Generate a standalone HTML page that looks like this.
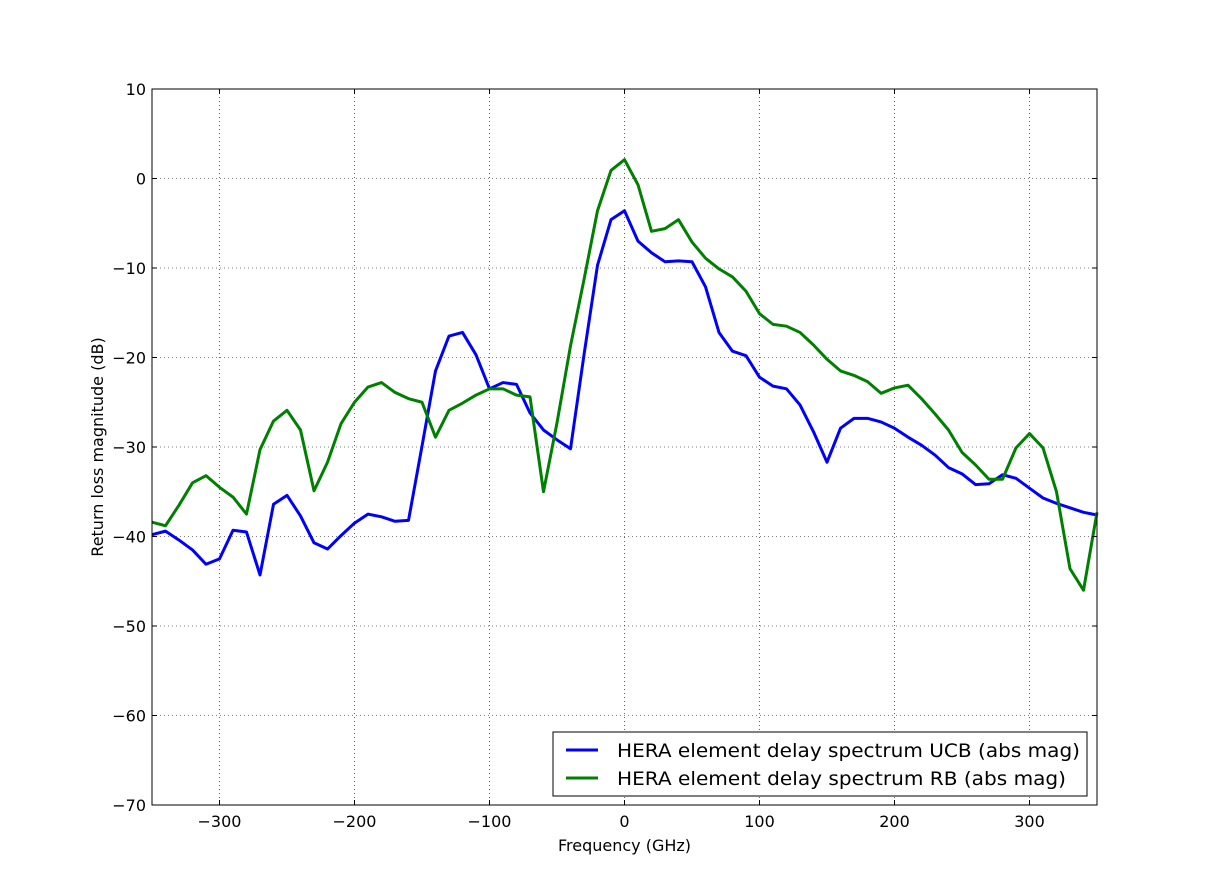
<!DOCTYPE html>
<html><head><meta charset="utf-8"><style>
body{margin:0;background:#fff;}
svg{display:block;font-family:"DejaVu Sans","Liberation Sans",sans-serif;}
</style></head><body>
<svg id="chart" width="1218" height="896"></svg>
<script>
const freqs=[];for(let f=-350;f<=350;f+=10)freqs.push(f);
const ucb=[-39.8,-39.4,-40.4,-41.5,-43.1,-42.5,-39.3,-39.5,-44.3,-36.4,-35.4,-37.7,-40.7,-41.4,-39.9,-38.5,-37.5,-37.8,-38.3,-38.2,-29.9,-21.5,-17.6,-17.2,-19.7,-23.5,-22.8,-23.0,-26.2,-28.1,-29.2,-30.2,-19.7,-9.7,-4.6,-3.6,-7.0,-8.3,-9.3,-9.2,-9.3,-12.1,-17.2,-19.3,-19.8,-22.2,-23.2,-23.5,-25.3,-28.3,-31.7,-27.9,-26.8,-26.8,-27.2,-27.9,-28.9,-29.8,-30.9,-32.3,-33.0,-34.2,-34.1,-33.1,-33.5,-34.6,-35.7,-36.3,-36.8,-37.3,-37.6];
const rb=[-38.4,-38.8,-36.5,-34.0,-33.2,-34.5,-35.6,-37.5,-30.3,-27.1,-25.9,-28.1,-34.9,-31.7,-27.4,-25.0,-23.3,-22.8,-23.9,-24.6,-25.0,-28.9,-25.9,-25.1,-24.2,-23.5,-23.5,-24.2,-24.4,-35.0,-27.3,-18.7,-11.3,-3.6,0.9,2.1,-0.7,-5.9,-5.6,-4.6,-7.1,-8.9,-10.1,-11.0,-12.6,-15.1,-16.3,-16.5,-17.2,-18.6,-20.2,-21.5,-22.0,-22.7,-24.0,-23.4,-23.1,-24.6,-26.3,-28.1,-30.6,-32.0,-33.6,-33.6,-30.1,-28.5,-30.1,-35.0,-43.6,-46.0,-37.3];
const xTicks=[-300,-200,-100,0,100,200,300];
const yTicks=[10,0,-10,-20,-30,-40,-50,-60,-70];
const L=152,R=1097,T=89,B=805;
const xs=v=>L+(v+350)/700*(R-L);
const ys=v=>T+(10-v)/80*(B-T);
const svg=document.getElementById('chart');
const NS='http://www.w3.org/2000/svg';
function mk(tag,attrs,parent){const e=document.createElementNS(NS,tag);for(const k in attrs)e.setAttribute(k,attrs[k]);(parent||svg).appendChild(e);return e;}
const grid=mk('g',{});


xTicks.forEach(t=>{mk('line',{x1:xs(t),x2:xs(t),y1:T,y2:B,stroke:'#000','stroke-width':0.6,'stroke-dasharray':'1,3'},grid);});
yTicks.forEach(t=>{mk('line',{x1:L,x2:R,y1:ys(t),y2:ys(t),stroke:'#000','stroke-width':0.6,'stroke-dasharray':'1,3'},grid);});
function series(data,color,name){const p=mk('polyline',{points:data.map((v,i)=>xs(freqs[i])+','+ys(v)).join(' '),fill:'none',stroke:color,'stroke-width':3,'stroke-linejoin':'round'});

}
series(ucb,'#0000ff','ucb-line');
series(rb,'#008000','rb-line');
const frame=mk('rect',{x:L,y:T,width:R-L,height:B-T,fill:'none',stroke:'#000','stroke-width':1});


xTicks.forEach(t=>{mk('line',{x1:xs(t),x2:xs(t),y1:B,y2:B-5,stroke:'#000'});mk('line',{x1:xs(t),x2:xs(t),y1:T,y2:T+5,stroke:'#000'});
const tx=mk('text',{x:xs(t),y:B+22,'text-anchor':'middle','font-size':16});tx.textContent=t<0?'\u2212'+(-t):String(t);

});
yTicks.forEach(t=>{mk('line',{x1:L,x2:L+5,y1:ys(t),y2:ys(t),stroke:'#000'});mk('line',{x1:R,x2:R-5,y1:ys(t),y2:ys(t),stroke:'#000'});
const tx=mk('text',{x:L-6,y:ys(t)+6,'text-anchor':'end','font-size':16});tx.textContent=t<0?'\u2212'+(-t):String(t);

});
const xt=mk('text',{x:(L+R)/2,y:851,'text-anchor':'middle','font-size':16});xt.textContent='Frequency (GHz)';


const yt=mk('text',{x:103,y:(T+B)/2,'text-anchor':'middle','font-size':16,transform:'rotate(-90 103 '+((T+B)/2)+')'});yt.textContent='Return loss magnitude (dB)';


const lg=mk('g',{});


mk('rect',{x:553,y:732,width:534,height:64,fill:'#fff',stroke:'#000','stroke-width':1},lg);
[['HERA element delay spectrum UCB (abs mag)','#0000ff',750,463],['HERA element delay spectrum RB (abs mag)','#008000',778,449]].forEach(([lab,c,y,w])=>{
const e=mk('g',{},lg);


mk('line',{x1:566,x2:598,y1:y,y2:y,stroke:c,'stroke-width':3},e);
const t=mk('text',{x:617,y:y+7,'font-size':19,textLength:w,lengthAdjust:'spacingAndGlyphs'},e);t.textContent=lab;});
</script>
</body></html>
